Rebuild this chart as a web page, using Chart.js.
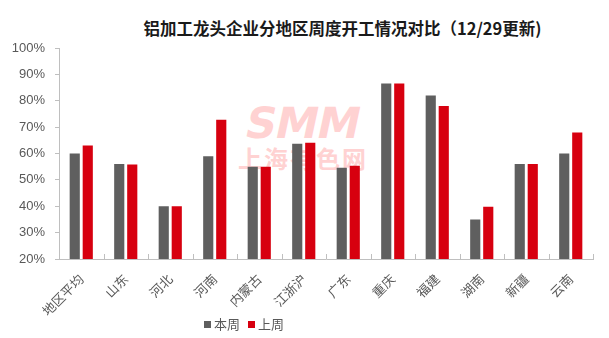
<!DOCTYPE html>
<html>
<head>
<meta charset="utf-8">
<script src="https://cdn.jsdelivr.net/npm/chart.js@4.4.1/dist/chart.umd.min.js"></script>
<style>
  html, body { margin: 0; padding: 0; background: #fff; }
  #wrap { position: relative; width: 609px; height: 338px; overflow: hidden; font-family: "Noto Sans CJK SC", sans-serif; }
  #title { position: absolute; left: 0; top: 16px; width: 609px; box-sizing: border-box; padding-left: 76px;
           text-align: center; font-size: 16.5px; font-weight: bold; color: #1a1a1a; }
  #mark { position: absolute; left: 236px; top: 101px; color: #ffd2d2; z-index: 0; text-align: center; width: 134px; }
  #mark .en { font-family: "DejaVu Sans", sans-serif; font-size: 43px; font-weight: bold; line-height: 44px;
              transform: skewX(-12deg); letter-spacing: -1px; }
  #mark .cn { font-size: 24px; font-weight: bold; line-height: 26px; letter-spacing: 2px; }
  #chart { position: absolute; left: 0; top: 0; z-index: 1; }
  #legend { position: absolute; left: 204px; top: 314px; font-size: 13px; color: #595959; z-index: 2; }
  #legend span.box { display: inline-block; width: 7px; height: 7px; margin-right: 3px; vertical-align: 1px; }
  #legend span.item { margin-right: 8px; }
</style>
</head>
<body>
<div id="wrap">
  <div id="mark"><div class="en">SMM</div><div class="cn">上海有色网</div></div>
  <canvas id="chart" width="609" height="338"></canvas>
  <div id="title">铝加工龙头企业分地区周度开工情况对比（12/29更新)</div>
  <div id="legend"></div>
</div>
<script>
// ── Données
const REGIONS   = ['地区平均', '山东', '河北', '河南', '内蒙古', '江浙沪', '广东', '重庆', '福建', '湖南', '新疆', '云南'];
const THIS_WEEK = [60, 56, 40, 59, 55, 63.7, 54.6, 86.5, 82, 35, 56, 60];
const LAST_WEEK = [63, 55.8, 40, 72.8, 55, 64.1, 55.4, 86.5, 78, 39.8, 56, 68];
const SERIES    = ['本周', '上周'];
const Y_MIN = 20, Y_MAX = 100, Y_STEP = 10;

const GRAY = '#5f5f5f';
const RED  = '#d7000f';
const AXIS = '#bfbfbf';
const TXT  = '#595959';

// ── petites graduations intérieures sur l'axe X (style Excel)
const insideTicks = {
  id: 'insideTicks',
  afterDatasetsDraw(chart) {
    const { ctx, chartArea: a } = chart;
    const n = REGIONS.length, step = (a.right - a.left) / n;
    ctx.save();
    ctx.strokeStyle = AXIS; ctx.lineWidth = 1;
    ctx.beginPath();
    for (let i = 0; i <= n; i++) {
      const px = Math.round(a.left + i * step) + 0.5;
      ctx.moveTo(px, a.bottom); ctx.lineTo(px, a.bottom - 5);
    }
    ctx.stroke();
    ctx.restore();
  }
};

new Chart(document.getElementById('chart'), {
  type: 'bar',
  data: {
    labels: REGIONS,
    datasets: [
      { label: SERIES[0], data: THIS_WEEK, backgroundColor: GRAY, categoryPercentage: 0.585, barPercentage: 0.78 },
      { label: SERIES[1], data: LAST_WEEK, backgroundColor: RED,  categoryPercentage: 0.585, barPercentage: 0.78 }
    ]
  },
  options: {
    responsive: false,
    animation: false,
    layout: { padding: { top: 48, right: 16, bottom: 0, left: 0 } },
    plugins: { legend: { display: false }, title: { display: false }, tooltip: { enabled: false } },
    scales: {
      x: {
        grid: { display: false },
        border: { color: AXIS, width: 1 },
        ticks: { color: TXT, font: { family: 'Noto Sans CJK SC', size: 13 }, maxRotation: 45, minRotation: 45, padding: 4 },
        afterFit(s) { s.height = 79; }
      },
      y: {
        min: Y_MIN, max: Y_MAX,
        grid: { display: true, drawOnChartArea: false, drawTicks: true, tickLength: 4, color: AXIS },
        border: { color: AXIS, width: 1 },
        ticks: { stepSize: Y_STEP, color: TXT, padding: 10, font: { family: 'Liberation Sans', size: 13 }, callback: v => v + '%' },
        afterFit(s) { s.width = 59; }
      }
    }
  },
  plugins: [insideTicks]
});

// ── légende HTML
document.getElementById('legend').innerHTML = SERIES.map((s, i) =>
  `<span class="item"><span class="box" style="background:${i ? RED : GRAY}"></span>${s}</span>`).join('');
</script>
</body>
</html>
